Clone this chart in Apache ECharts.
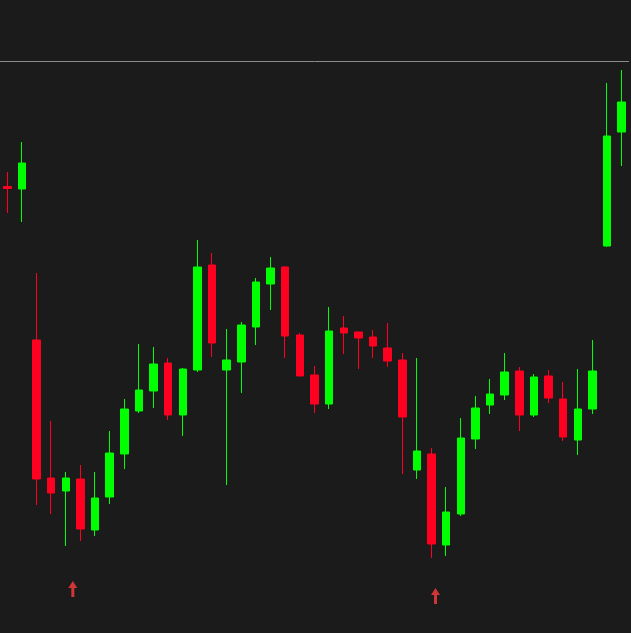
<!DOCTYPE html>
<html>
<head>
<meta charset="utf-8">
<script src="https://cdn.jsdelivr.net/npm/echarts@6/dist/echarts.min.js"></script>
<style>
  html, body { margin: 0; padding: 0; background: #1b1b1b; }
  #chart { width: 631px; height: 633px; }
</style>
</head>
<body>
<div id="chart"></div>
<script>
// K线数据：每根 [开, 收, 低, 高]
const days = []
for (let i = 1; i <= 43; i++) days.push('D' + i)

const candles = [
  [44.65, 44.45, 42.0, 46.1],
  [44.4, 47.0, 41.1, 49.1],
  [29.3, 15.4, 12.8, 36.0],
  [15.5, 14.0, 11.9, 21.2],
  [14.2, 15.5, 8.7, 16.1],
  [15.4, 10.4, 9.2, 16.8],
  [10.3, 13.5, 9.7, 16.1],
  [13.6, 18.0, 12.9, 20.2],
  [17.9, 22.4, 16.4, 23.4],
  [22.2, 24.3, 22.0, 28.9],
  [24.2, 26.9, 22.5, 28.6],
  [27.0, 21.8, 21.3, 27.5],
  [21.8, 26.4, 19.7, 26.5],
  [26.3, 36.6, 26.1, 39.3],
  [36.8, 29.0, 27.6, 38.0],
  [26.3, 27.3, 14.8, 30.4],
  [27.1, 30.8, 24.0, 31.1],
  [30.6, 35.1, 28.8, 35.5],
  [34.9, 36.5, 32.3, 37.6],
  [36.6, 29.7, 27.5, 36.7],
  [29.8, 25.7, 25.7, 30.0],
  [25.8, 22.9, 22.0, 26.7],
  [22.9, 30.2, 22.4, 32.6],
  [30.5, 30.0, 27.9, 31.7],
  [30.1, 29.5, 26.4, 30.1],
  [29.6, 28.7, 27.5, 30.3],
  [28.5, 27.2, 26.6, 31.0],
  [27.3, 21.6, 15.9, 28.0],
  [16.3, 18.2, 15.4, 27.5],
  [17.9, 8.9, 7.5, 18.5],
  [8.8, 12.1, 7.7, 14.6],
  [11.9, 19.5, 11.7, 21.5],
  [19.4, 22.5, 18.4, 23.7],
  [22.8, 23.9, 21.9, 25.4],
  [23.8, 26.1, 23.3, 28.0],
  [26.2, 21.8, 20.2, 26.6],
  [21.8, 25.6, 21.6, 25.9],
  [25.7, 23.5, 23.0, 26.3],
  [23.4, 19.6, 19.2, 25.1],
  [19.3, 22.4, 17.8, 26.4],
  [22.4, 26.2, 21.9, 29.3],
  [38.7, 49.7, 38.6, 55.0],
  [50.1, 53.1, 46.7, 56.3]
]

// 买入信号箭头
const signalIndex = [4, 29]
const signalValue = [4.4, 3.7]

const refLevel = 57.2

const upColor = '#00ff00'
const downColor = '#ff0020'

const chart = echarts.init(document.getElementById('chart'))
const option = {
  backgroundColor: '#1b1b1b',
  animation: false,
  grid: { left: -2, right: 2, top: 0, bottom: 0 },
  xAxis: {
    type: 'category',
    data: days,
    boundaryGap: true,
    show: false
  },
  yAxis: {
    type: 'value',
    min: 0,
    max: 63.3,
    show: false,
    splitLine: { show: false }
  },
  series: [
    {
      type: 'candlestick',
      data: candles,
      barWidth: 8,
      itemStyle: {
        color: upColor,
        color0: downColor,
        borderColor: upColor,
        borderColor0: downColor,
        borderWidth: 1
      },
      markLine: {
        silent: true,
        symbol: ['none', 'none'],
        label: { show: false },
        lineStyle: { color: '#8c8c8c', width: 1, type: 'solid' },
        data: [{ yAxis: refLevel }]
      }
    },
    {
      type: 'scatter',
      symbol: 'path://M4.5,0 L9,7 L6,7 L6,16 L3,16 L3,7 L0,7 Z',
      symbolSize: [9, 16],
      itemStyle: { color: '#ff3d3d' },
      data: signalIndex.map((idx, i) => ({
        value: [idx, signalValue[i]],
        symbolOffset: i === 0 ? [7, 0] : [4, 0]
      }))
    }
  ]
}
chart.setOption(option)
</script>
</body>
</html>
